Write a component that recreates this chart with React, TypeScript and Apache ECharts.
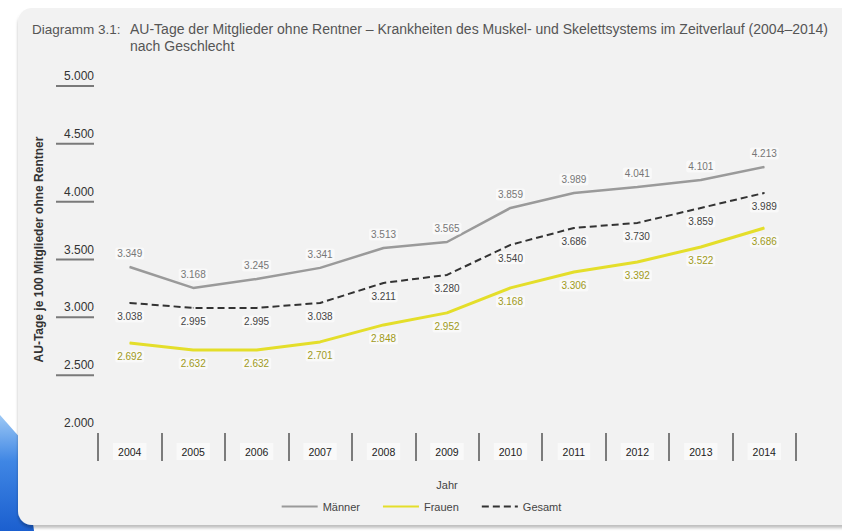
import React, { useEffect, useRef } from "react";
import * as echarts from "echarts";

const years = ["2004", "2005", "2006", "2007", "2008", "2009", "2010", "2011", "2012", "2013", "2014"];
const maenner = [3349, 3168, 3245, 3341, 3513, 3565, 3859, 3989, 4041, 4101, 4213];
const frauen = [2692, 2632, 2632, 2701, 2848, 2952, 3168, 3306, 3392, 3522, 3686];
const gesamt = [3038, 2995, 2995, 3038, 3211, 3280, 3540, 3686, 3730, 3859, 3989];
const titleLabel = "Diagramm 3.1:";
const titleLine1 = "AU-Tage der Mitglieder ohne Rentner – Krankheiten des Muskel- und Skelettsystems im Zeitverlauf (2004–2014)";
const titleLine2 = "nach Geschlecht";
const yAxisTitle = "AU-Tage je 100 Mitglieder ohne Rentner";

const fmt = (v: number) => v.toLocaleString("de-DE");
const FONT = "Liberation Sans";

export default function App() {
  const ref = useRef<HTMLDivElement>(null);
  useEffect(() => {
    document.body.style.margin = "0";
    const chart = echarts.init(ref.current!, null, { renderer: "svg" });
    const labelBg = "rgba(255,255,255,0.55)";
    const mkLabel = (color: string, position: string) => ({
      show: true,
      position,
      distance: 7,
      formatter: (p: any) => fmt(p.value),
      color,
      fontFamily: FONT,
      fontSize: 10,
      backgroundColor: labelBg,
      padding: [1, 2],
      borderRadius: 2,
    });
    chart.setOption({
      animation: false,
      backgroundColor: "#ffffff",
      graphic: [
        {
          type: "polygon",
          z: -10,
          shape: { points: [[0, 415], [22, 440], [34, 531], [0, 531]] },
          style: {
            fill: new echarts.graphic.LinearGradient(0, 0, 0, 1, [
              { offset: 0, color: "#9cc8f5" },
              { offset: 0.4, color: "#3f86e4" },
              { offset: 1, color: "#1b5fcf" },
            ]),
          },
        },
        {
          type: "rect",
          z: -5,
          shape: { x: 18, y: 8, width: 840, height: 517, r: 14 },
          style: {
            fill: "#f2f2f2",
            shadowBlur: 3,
            shadowOffsetY: 3,
            shadowColor: "rgba(0,0,0,0.25)",
          },
        },
        {
          type: "text",
          x: 32,
          y: 22,
          style: { text: titleLabel, fontFamily: FONT, fontSize: 13.5, fill: "#555" },
        },
        {
          type: "text",
          x: 130,
          y: 22,
          style: { text: titleLine1, fontFamily: FONT, fontSize: 14, fill: "#555" },
        },
        {
          type: "text",
          x: 130,
          y: 39,
          style: { text: titleLine2, fontFamily: FONT, fontSize: 14, fill: "#555" },
        },
      ],
      grid: { left: 98, right: 46, top: 76, bottom: 108, containLabel: false },
      legend: {
        bottom: 14,
        left: "center",
        itemWidth: 36,
        itemHeight: 8,
        itemGap: 22,
        itemStyle: { opacity: 0 },
        textStyle: { fontFamily: FONT, fontSize: 11, color: "#444" },
        data: ["Männer", "Frauen", "Gesamt"],
      },
      xAxis: {
        type: "category",
        data: years,
        boundaryGap: true,
        offset: 10,
        name: "Jahr",
        nameLocation: "middle",
        nameGap: 46,
        nameTextStyle: { fontFamily: FONT, fontSize: 11, color: "#444" },
        axisLine: { show: false },
        axisTick: { show: true, length: 28, lineStyle: { color: "#555", width: 1.5 } },
        axisLabel: {
          margin: 10,
          fontFamily: FONT,
          fontSize: 10.5,
          color: "#222",
          backgroundColor: labelBg,
          padding: [3, 5],
        },
      },
      yAxis: {
        type: "value",
        min: 2000,
        max: 5000,
        interval: 500,
        name: yAxisTitle,
        nameLocation: "middle",
        nameGap: 52,
        nameTextStyle: { fontFamily: FONT, fontSize: 12, color: "#333", fontWeight: "bold" },
        axisLine: { show: false },
        axisTick: { show: false },
        splitLine: { show: false },
        axisLabel: {
          margin: 4,
          align: "right",
          formatter: (v: number) => (v === 2000 ? `{v|${fmt(v)}}\n{n| }` : `{v|${fmt(v)}}\n{u| }`),
          padding: [6, 0, 0, 0],
          rich: {
            v: {
              fontFamily: FONT,
              fontSize: 12,
              color: "#333",
              lineHeight: 14,
              align: "right",
            },
            u: {
              width: 38,
              height: 2,
              lineHeight: 6,
              fontSize: 2,
              backgroundColor: "#7a7a7a",
              align: "right",
            },
            n: {
              width: 38,
              height: 2,
              lineHeight: 6,
              fontSize: 2,
              align: "right",
            },
          },
        },
      },
      series: [
        {
          name: "Männer",
          type: "line",
          data: maenner,
          symbol: "circle",
          symbolSize: 1,
          itemStyle: { color: "#9a9a9a" },
          lineStyle: { color: "#9a9a9a", width: 2.5 },
          label: mkLabel("#777", "top"),
        },
        {
          name: "Frauen",
          type: "line",
          data: frauen,
          symbol: "circle",
          symbolSize: 1,
          itemStyle: { color: "#e4de2a" },
          lineStyle: { color: "#e4de2a", width: 3 },
          label: mkLabel("#a09a1a", "bottom"),
        },
        {
          name: "Gesamt",
          type: "line",
          data: gesamt,
          symbol: "circle",
          symbolSize: 1,
          itemStyle: { color: "#333" },
          lineStyle: { color: "#333", width: 2, type: [7, 4] },
          label: mkLabel("#444", "bottom"),
        },
      ],
    });
    return () => chart.dispose();
  }, []);
  return <div ref={ref} style={{ width: 842, height: 531 }} />;
}
